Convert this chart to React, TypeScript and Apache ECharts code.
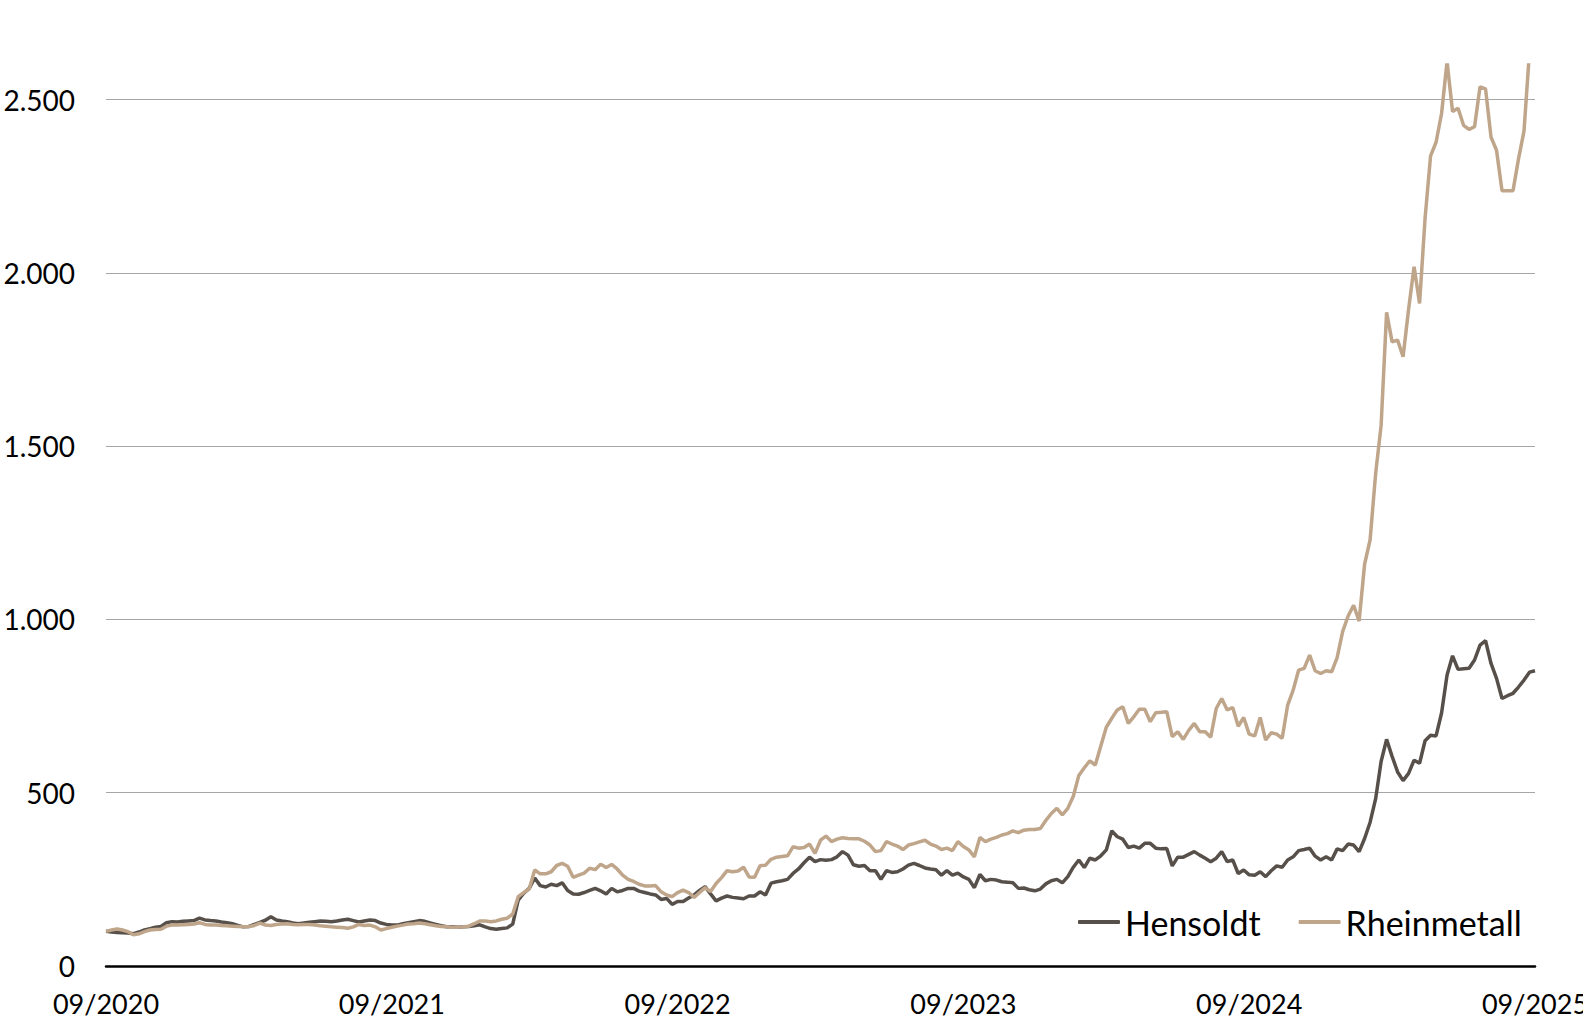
import React, { useEffect, useRef } from "react";
import * as echarts from "echarts";

// Weekly index values (start = 100), 09/2020 .. 09/2025
const xTickLabels = ["09/2020", "09/2021", "09/2022", "09/2023", "09/2024", "09/2025"];
const weeksPerYear = 52;
const yTickStep = 500;
const yMaxValue = 2600;

const hensoldt = [
  100, 98, 97, 96, 95, 93, 98, 104, 108, 112,
  114, 125, 128, 127, 129, 130, 131, 138, 133, 131,
  130, 127, 125, 122, 117, 113, 114, 120, 126, 132,
  142, 133, 130, 128, 124, 122, 124, 126, 128, 130,
  129, 128, 130, 133, 135, 131, 127, 130, 133, 131,
  124, 120, 118, 118, 122, 125, 128, 131, 129, 124,
  120, 116, 113, 113, 112, 113, 114, 116, 119, 113,
  108, 106, 108, 110, 121, 190, 210, 224, 254, 232,
  228, 236, 232, 240, 218, 208, 207, 212, 218, 224,
  217, 208, 224, 214, 218, 224, 224, 216, 212, 208,
  205, 192, 195, 178, 186, 186, 196, 205, 218, 229,
  208, 188, 196, 202, 198, 196, 194, 202, 202, 214,
  205, 239, 243, 246, 250, 267, 280, 298, 314, 301,
  307, 305, 307, 315, 330, 320, 292, 288, 290, 275,
  275, 250, 275, 270, 272, 280, 291, 296, 290, 283,
  280, 278, 262, 275, 262, 268, 257, 250, 226, 264,
  246, 250, 248, 243, 242, 240, 224, 225, 220, 217,
  222, 237, 246, 250, 240, 258, 285, 306, 284, 311,
  306, 318, 335, 390, 373, 366, 342, 346, 340, 354,
  354, 340, 338, 339, 289, 314, 314, 322, 330, 320,
  311, 301, 311, 330, 301, 306, 267, 277, 263, 262,
  272, 258, 275, 289, 285, 306, 315, 333, 336, 340,
  317, 306, 315, 306, 338, 333, 352, 349, 330, 368,
  415, 482, 590, 654, 605, 560, 535, 556, 594, 585,
  650, 666, 664, 730, 840, 895, 856, 858, 859, 883,
  926, 939, 873, 830, 772, 780, 787, 805, 825, 848, 852,
];

const rheinmetall = [
  100, 104, 107, 104, 99, 90, 93, 99, 104, 105,
  106, 115, 118, 118, 119, 120, 121, 125, 120, 118,
  118, 117, 116, 115, 114, 113, 114, 117, 124, 118,
  117, 120, 121, 122, 120, 119, 120, 120, 118, 116,
  115, 113, 112, 111, 109, 113, 120, 117, 118, 113,
  104, 108, 112, 115, 118, 121, 122, 124, 122, 119,
  116, 114, 113, 112, 112, 113, 115, 122, 130, 130,
  128, 130, 135, 138, 150, 200, 212, 222, 277, 266,
  266, 272, 290, 296, 288, 256, 262, 268, 282, 278,
  294, 284, 293, 280, 262, 250, 244, 236, 231, 231,
  232, 214, 205, 200, 212, 219, 212, 198, 212, 226,
  215, 238, 255, 275, 272, 274, 285, 257, 256, 289,
  291, 308, 314, 316, 318, 344, 340, 342, 352, 325,
  363, 375, 359, 366, 370, 368, 367, 367, 360, 349,
  330, 333, 359, 352, 346, 336, 349, 353, 358, 363,
  352, 346, 336, 340, 333, 359, 345, 335, 315, 371,
  359, 366, 371, 378, 382, 390, 385, 392, 394, 394,
  397, 420, 440, 455, 436, 455, 490, 550, 572, 592,
  580, 635, 689, 715, 739, 748, 700, 719, 741, 741,
  705, 731, 732, 734, 662, 676, 654, 680, 700, 676,
  676, 660, 743, 772, 739, 746, 692, 717, 669, 664,
  717, 652, 673, 669, 657, 753, 796, 854, 859, 897,
  852, 844, 852, 849, 890, 965, 1010, 1041, 995, 1160,
  1230, 1420, 1560, 1886, 1801, 1806, 1758, 1895, 2018, 1912,
  2158, 2338, 2377, 2460, 2610, 2466, 2475, 2426, 2414, 2422,
  2537, 2531, 2392, 2354, 2237, 2237, 2237, 2329, 2409, 2640, 2800,
];

const seriesNames = ["Hensoldt", "Rheinmetall"];
const seriesColors = ["#57504a", "#bfa58a"];

const FONT = "Lato, 'Open Sans', sans-serif";

function fmtThousands(v: number): string {
  if (v >= 1000) {
    const k = Math.floor(v / 1000);
    const r = v % 1000;
    return `${k}.${String(r).padStart(3, "0")}`;
  }
  return String(v);
}

export default function App() {
  const ref = useRef<HTMLDivElement>(null);

  useEffect(() => {
    if (!ref.current) return;
    const chart = echarts.init(ref.current, null, { renderer: "svg" });
    const toPairs = (arr: number[]) => arr.map((v, i) => [i, v]);
    chart.setOption({
      animation: false,
      backgroundColor: "#ffffff",
      grid: {
        left: 106,
        right: 48,
        top: 65,
        bottom: 63,
        containLabel: false,
        outerBoundsMode: "none",
      },
      xAxis: {
        type: "value",
        min: 0,
        max: (xTickLabels.length - 1) * weeksPerYear,
        interval: weeksPerYear,
        axisLine: { show: true, onZero: false, lineStyle: { color: "#000000", width: 2.5 } },
        axisTick: { show: false },
        splitLine: { show: false },
        axisLabel: {
          formatter: (v: number) => xTickLabels[Math.round(v / weeksPerYear)] ?? "",
          color: "#000000",
          fontFamily: FONT,
          fontSize: 27,
          margin: 24,
          showMinLabel: true,
          showMaxLabel: true,
          hideOverlap: false,
        },
      },
      yAxis: {
        type: "value",
        min: 0,
        max: yMaxValue,
        interval: yTickStep,
        axisLine: { show: false },
        axisTick: { show: false },
        splitLine: {
          show: true,
          showMaxLine: false,
          lineStyle: { color: "#a6a6a6", width: 1 },
        },
        axisLabel: {
          formatter: (v: number) => (v % yTickStep === 0 ? fmtThousands(v) : ""),
          showMaxLabel: false,
          color: "#000000",
          fontFamily: FONT,
          fontSize: 28,
          margin: 31,
        },
      },
      legend: {
        data: seriesNames,
        left: 1078,
        top: 905,
        orient: "horizontal",
        padding: 0,
        icon: "roundRect",
        itemWidth: 42,
        itemHeight: 4,
        itemGap: 38,
        textStyle: { color: "#000000", fontFamily: FONT, fontSize: 34 },
      },
      series: [
        {
          name: seriesNames[0],
          type: "line",
          data: toPairs(hensoldt),
          symbol: "none",
          showSymbol: false,
          lineStyle: { color: seriesColors[0], width: 3.5 },
          itemStyle: { color: seriesColors[0] },
          z: 2,
        },
        {
          name: seriesNames[1],
          type: "line",
          data: toPairs(rheinmetall),
          symbol: "none",
          showSymbol: false,
          lineStyle: { color: seriesColors[1], width: 3.5 },
          itemStyle: { color: seriesColors[1] },
          z: 3,
        },
      ],
    });
    return () => chart.dispose();
  }, []);

  return (
    <div
      ref={ref}
      style={{ position: "absolute", left: 0, top: 0, width: 1583, height: 1029 }}
    />
  );
}
